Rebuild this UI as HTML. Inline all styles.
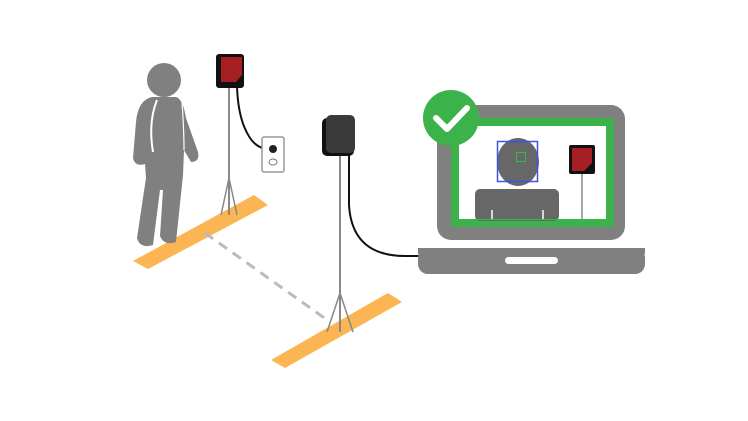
<!DOCTYPE html>
<html><head><style>html,body{margin:0;padding:0;background:#fff;}svg{display:block;}</style></head>
<body>
<svg width="748" height="421" viewBox="0 0 748 421" xmlns="http://www.w3.org/2000/svg">
<polygon points="133,261 148,269 268,205 254,195" fill="#fbb552"/>
<polygon points="271,360 285,368 402,302 388,293" fill="#fbb552"/>
<line x1="205" y1="233" x2="330" y2="322" stroke="#bbb" stroke-width="3" stroke-dasharray="10,7"/>
<!-- person -->
<circle cx="164" cy="80" r="17" fill="#808080"/>
<path d="M152,97 Q138,100 136,122 L133,158 Q135,167 145,164 L146,178 L137,238 Q140,249 153,245 L160,190 L163,190 L160,236 Q164,246 176,242 L183,175 L184,150 L191,162 Q200,162 198,152 L186,118 Q183,99 176,97 Z" fill="#808080"/>
<path d="M157,100 Q148,122 153,152" stroke="#fff" stroke-width="2" fill="none"/>
<path d="M182,102 Q184,130 184,150" stroke="#fff" stroke-width="1.2" fill="none"/>
<!-- left sensor -->
<line x1="229" y1="86" x2="229" y2="215" stroke="#888" stroke-width="2"/>
<path d="M229,178 L221,215 M229,178 L237,215 M229,178 L229,215" stroke="#888" stroke-width="1.5" fill="none"/>
<path d="M237,86 Q238,120 250,138 Q258,150 272,149" stroke="#111" stroke-width="2" fill="none"/>
<rect x="216" y="54" width="28" height="34" rx="3" fill="#111"/>
<polygon points="221,57 242,57 242,75 236,82 221,82" fill="#a51f24"/>
<rect x="262" y="137" width="22" height="35" rx="2" fill="#fff" stroke="#999" stroke-width="1.5"/>
<circle cx="273" cy="149" r="4" fill="#222"/>
<ellipse cx="273" cy="162" rx="4" ry="3" fill="#fff" stroke="#777"/>
<!-- middle sensor -->
<line x1="340" y1="152" x2="340" y2="332" stroke="#888" stroke-width="2"/>
<path d="M340,293 L327,332 M340,293 L353,332" stroke="#888" stroke-width="1.5" fill="none"/>
<path d="M349,148 L349,205 Q352,256 405,256 L420,256" stroke="#111" stroke-width="2" fill="none"/>
<rect x="322" y="118" width="32" height="38" rx="5" fill="#111"/>
<rect x="326" y="115" width="29" height="38" rx="5" fill="#3a3a3a"/>
<!-- laptop -->
<rect x="437" y="105" width="188" height="135" rx="14" fill="#808080"/>
<rect x="451" y="118" width="163" height="109" fill="#3cb34a"/>
<rect x="459" y="126" width="147" height="93" fill="#fff"/>
<ellipse cx="518" cy="162" rx="21" ry="24" fill="#676767"/>
<rect x="497.5" y="141.5" width="40" height="40" fill="none" stroke="#3b55e6" stroke-width="1.5"/>
<rect x="516.5" y="152.5" width="9" height="9" fill="none" stroke="#3cb34a" stroke-width="1.2"/>
<rect x="475" y="189" width="84" height="32" rx="5" fill="#676767"/>
<line x1="492" y1="210" x2="492" y2="219" stroke="#fff" stroke-width="1.5"/>
<line x1="543" y1="210" x2="543" y2="219" stroke="#fff" stroke-width="1.5"/>
<rect x="459" y="219" width="147" height="1" fill="#3cb34a"/>
<line x1="582" y1="172" x2="582" y2="219" stroke="#888" stroke-width="1.5"/>
<rect x="569" y="145" width="26" height="29" rx="2" fill="#111"/>
<polygon points="572,148 592,148 592,163 584,171 572,171" fill="#a51f24"/>
<rect x="418" y="248" width="227" height="26" rx="10" fill="#808080"/>
<rect x="418" y="248" width="227" height="6" fill="#808080"/>
<rect x="505" y="257" width="53" height="7" rx="3.5" fill="#fff"/>
<circle cx="451" cy="118" r="28" fill="#3cb34a"/>
<path d="M436,118 L447,129 L467,108" stroke="#fff" stroke-width="6" fill="none" stroke-linecap="round" stroke-linejoin="round"/>
</svg>
</body></html>
